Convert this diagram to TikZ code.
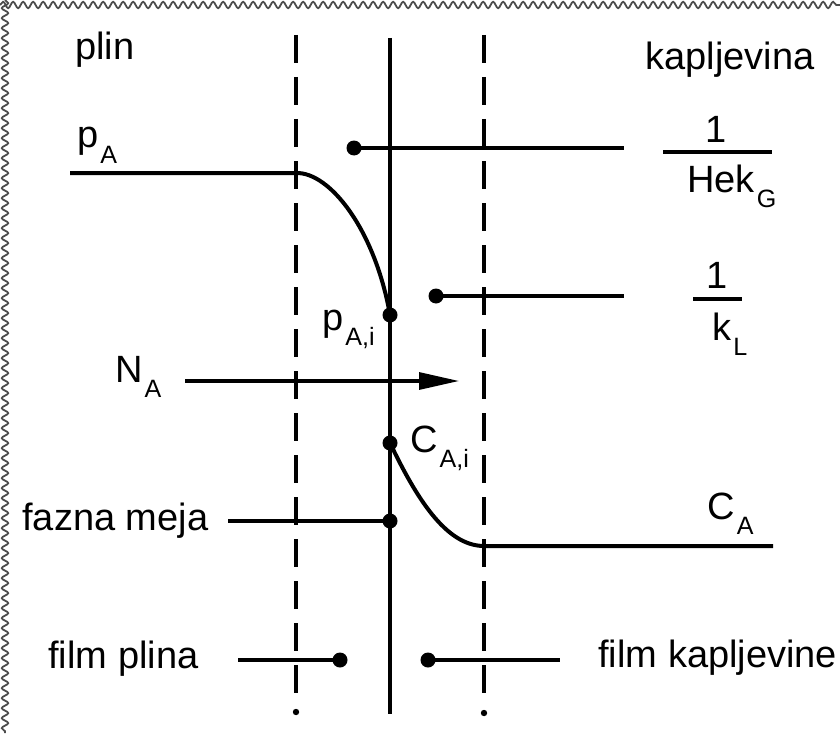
\documentclass[tikz,border=0pt]{standalone}
\usepackage{fontspec}
\setmainfont{Liberation Sans}
\usepackage{graphicx}
\usetikzlibrary{arrows.meta,decorations.pathmorphing}
\newcommand{\lowsub}[1]{\kern0.05em\raisebox{-0.42em}{\scalebox{0.66}{#1}}}

\begin{document}
\begin{tikzpicture}[
  x=0.5pt,y=-0.5pt,
  lbl/.style={anchor=base west,inner sep=0pt,font=\fontsize{19}{22}\selectfont},
  film/.style={line width=2.2pt,dash pattern=on 14pt off 7pt},
  wall/.style={line width=1.6pt},
  prof/.style={line width=2pt},
  lead/.style={line width=1.6pt},
  dot/.style={circle,fill,inner sep=0pt,minimum size=7.5pt},
  flux/.style={-{Triangle[length=20pt,width=8.5pt]},line width=1.6pt},
  torn/.style={black!70,line width=0.9pt,decorate,
    decoration={snake,segment length=5pt,amplitude=1.6pt}}
]
\useasboundingbox (0,0) rectangle (840,733);
% torn edge
\draw[torn] (0,5) -- (840,5);
\draw[torn] (5,0) -- (5,733);

% films and interface
\coordinate (gT) at (296,35);  \coordinate (gB) at (296,697);
\coordinate (iT) at (390,38);  \coordinate (iB) at (390,714);
\coordinate (lT) at (484,35);  \coordinate (lB) at (484,697);
\draw[film] (gT) -- (gB);
\draw[film] (lT) -- (lB);
\draw[wall] (iT) -- (iB);
\fill (296,712) circle (1.6pt);
\fill (484,713) circle (1.6pt);

% labels
\node[lbl] (plin) at (75,60) {plin};
\node[lbl] (kaplj) at (645,70) {kapljevina};
\node[lbl] (pA) at (77,148) {p\lowsub{A}};
\node[lbl] (NA) at (115,382) {N\lowsub{A}};
\node[lbl] (pAi) at (322,330) {p\lowsub{A,i}};
\node[lbl] (CAi) at (410,452) {C\lowsub{A,i}};
\node[lbl] (CA) at (707,519) {C\lowsub{A}};
\node[lbl] (meja) at (22,530) {fazna meja};
\node[lbl] (fpl) at (48,668) {film plina};
\node[lbl] (fkap) at (598,667) {film kapljevine};
\node[lbl,anchor=base] (oneG) at (716,142) {1};
\node[lbl] (hekG) at (687,192) {Hek\lowsub{G}};
\node[lbl,anchor=base] (oneL) at (717,288) {1};
\node[lbl] (kL) at (712,340) {k\lowsub{L}};
\draw[lead] (663,152) -- (772,152);
\draw[lead] (693,299) -- (742,299);

% points
\node[dot] (pi) at (390,315) {};
\node[dot] (ci) at (390,443) {};
\node[dot] (mi) at (390,521) {};
\node[dot] (rg) at (354,148) {};
\node[dot] (rl) at (436,296) {};
\node[dot] (fg) at (340,660) {};
\node[dot] (fl) at (428,660) {};
\coordinate (pA0) at (70,173);
\coordinate (pA1) at (296,173);
\coordinate (cA1) at (484,546);
\coordinate (cA0) at (773,546);

% concentration profiles
\draw[prof] (pA0) -- (pA1) .. controls (330,172) and (375,230) .. (pi.center);
\draw[prof] (ci.center) .. controls (415,495) and (445,546) .. (cA1) -- (cA0);

% leaders
\draw[lead] (rg.center) -- (624,148);
\draw[lead] (rl.center) -- (624,296);
\draw[lead] (228,521) -- (mi.center);
\draw[lead] (238,660) -- (fg.center);
\draw[lead] (fl.center) -- (560,660);
\draw[flux] (185,381) -- (459,381);
\end{tikzpicture}
\end{document}
